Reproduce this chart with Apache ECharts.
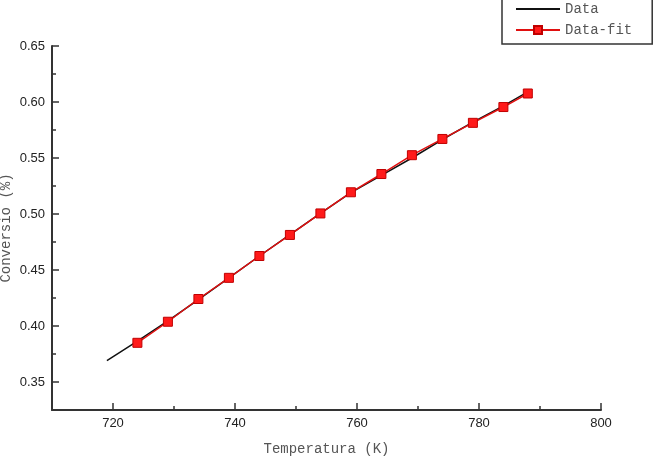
<!DOCTYPE html>
<html>
<head>
<meta charset="utf-8">
<script src="https://cdn.jsdelivr.net/npm/echarts@6/dist/echarts.min.js"></script>
<style>
  html, body { margin: 0; padding: 0; background: #fff; }
  #chart { width: 668px; height: 470px; }
</style>
</head>
<body>
<div id="chart"></div>
<script>
// temperatures (K) and conversions
const dataTemps = [719, 724, 729, 734, 739, 744, 749, 754, 759, 764, 769, 774, 779, 784, 788]
const dataConv = [0.369, 0.3865, 0.4045, 0.4235, 0.443, 0.4625, 0.4815, 0.5005, 0.519, 0.5345, 0.550, 0.5665, 0.582, 0.5965, 0.609]

const fitTemps = [724, 729, 734, 739, 744, 749, 754, 759, 764, 769, 774, 779, 784, 788]
const fitConv = [0.385, 0.4038, 0.4241, 0.4430, 0.4625, 0.4813, 0.5005, 0.5194, 0.5357, 0.5525, 0.567, 0.5814, 0.5955, 0.6076]

const xMajorTicks = [720, 740, 760, 780, 800]
const xMinorTicks = [730, 750, 770, 790]
const yMajorTicks = [0.35, 0.40, 0.45, 0.50, 0.55, 0.60, 0.65]
const yMinorTicks = [0.375, 0.425, 0.475, 0.525, 0.575, 0.625]

const axisColor = '#333'
const labelFont = '"Liberation Sans Narrow", "Liberation Sans", Arial, sans-serif'
const monoFont = '"Liberation Mono", "DejaVu Sans Mono", monospace'

const chart = echarts.init(document.getElementById('chart'))

const baseX = {
  type: 'value',
  min: 710,
  max: 800,
  splitLine: { show: false }
}
const baseY = {
  type: 'value',
  min: 0.325,
  max: 0.65,
  splitLine: { show: false }
}

chart.setOption({
  backgroundColor: '#fff',
  animation: false,
  grid: { left: 52, right: 67, top: 46, bottom: 60, containLabel: false, outerBoundsMode: 'none' },
  legend: {
    orient: 'vertical',
    left: 502,
    top: -12,
    padding: [14, 20, 7, 13],
    itemWidth: 44,
    itemHeight: 10,
    itemGap: 7,
    borderColor: '#333',
    borderWidth: 1.5,
    textStyle: { fontFamily: monoFont, fontSize: 14, color: '#555' },
    data: [
      { name: 'Data', itemStyle: { opacity: 0 } },
      { name: 'Data-fit' }
    ]
  },
  xAxis: [
    {
      ...baseX,
      name: 'Temperatura (K)',
      nameLocation: 'middle',
      nameGap: 32,
      nameMoveOverlap: false,
      nameTextStyle: { fontFamily: monoFont, fontSize: 14, color: '#555' },
      axisLine: { lineStyle: { color: axisColor, width: 2 } },
      axisTick: { inside: true, length: 7, customValues: xMajorTicks, lineStyle: { color: axisColor, width: 1.5 } },
      axisLabel: { customValues: xMajorTicks, fontFamily: labelFont, fontSize: 13, color: '#222', margin: 7 }
    },
    {
      ...baseX,
      position: 'bottom',
      axisLine: { show: false },
      axisTick: { inside: true, length: 4, customValues: xMinorTicks, lineStyle: { color: axisColor, width: 1.5 } },
      axisLabel: { show: false }
    }
  ],
  yAxis: [
    {
      ...baseY,
      name: 'Conversio (%)',
      nameLocation: 'middle',
      nameGap: 39,
      nameMoveOverlap: false,
      nameTextStyle: { fontFamily: monoFont, fontSize: 14, color: '#555' },
      axisLine: { show: true, lineStyle: { color: axisColor, width: 2 } },
      axisTick: { show: true, inside: true, length: 7, customValues: yMajorTicks, lineStyle: { color: axisColor, width: 1.5 } },
      axisLabel: {
        customValues: yMajorTicks,
        fontFamily: labelFont, fontSize: 13, color: '#222', margin: 7,
        formatter: v => v.toFixed(2)
      }
    },
    {
      ...baseY,
      position: 'left',
      axisLine: { show: false },
      axisTick: { show: true, inside: true, length: 4, customValues: yMinorTicks, lineStyle: { color: axisColor, width: 1.5 } },
      axisLabel: { show: false }
    }
  ],
  series: [
    {
      name: 'Data',
      type: 'line',
      symbol: 'none',
      lineStyle: { color: '#111', width: 1.5 },
      itemStyle: { color: '#111' },
      data: dataTemps.map((t, i) => [t, dataConv[i]])
    },
    {
      name: 'Data-fit',
      type: 'line',
      symbol: 'rect',
      symbolSize: [9, 9],
      lineStyle: { color: '#e01010', width: 1.5 },
      itemStyle: { color: '#ff1a1a', borderColor: '#c00000', borderWidth: 1 },
      data: fitTemps.map((t, i) => [t, fitConv[i]])
    }
  ]
})
</script>
</body>
</html>
